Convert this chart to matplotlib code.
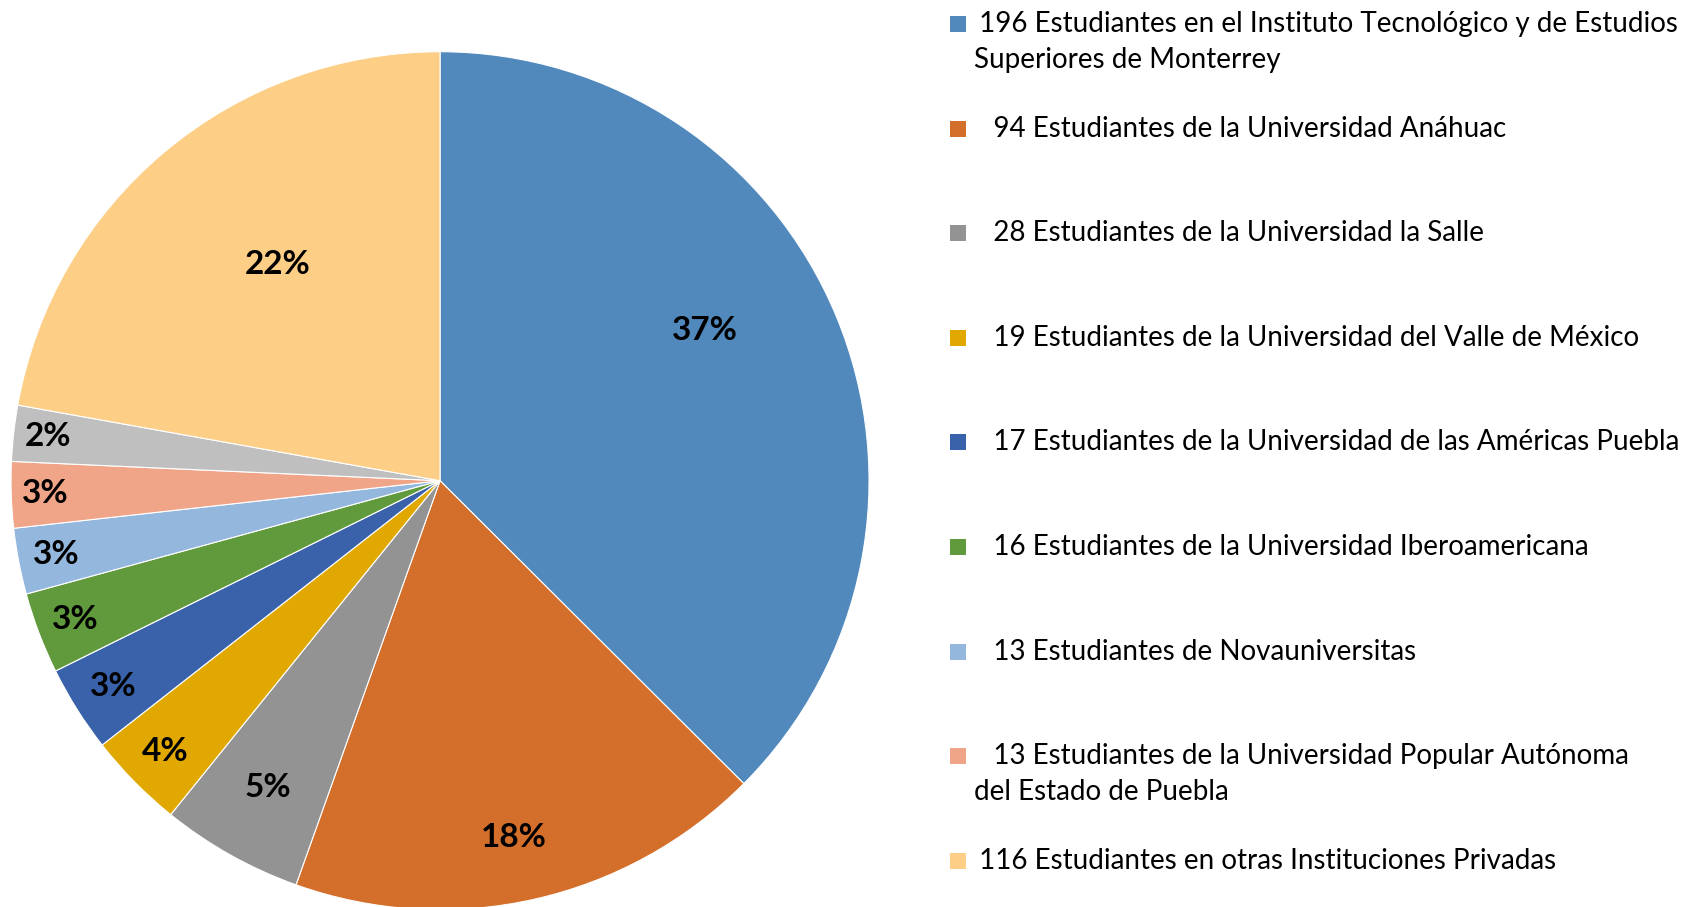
import numpy as np
import matplotlib.pyplot as plt
from matplotlib.patches import Rectangle

# datos del grafico (estudiantes por institucion)
valores = [196, 94, 28, 19, 17, 16, 13, 13, 11, 116]
porcentajes = ["37%", "18%", "5%", "4%", "3%", "3%", "3%", "3%", "2%", "22%"]
leyenda = [
    " 196 Estudiantes en el Instituto Tecnológico y de Estudios\nSuperiores de Monterrey",
    "   94 Estudiantes de la Universidad Anáhuac",
    "   28 Estudiantes de la Universidad la Salle",
    "   19 Estudiantes de la Universidad del Valle de México",
    "   17 Estudiantes de la Universidad de las Américas Puebla",
    "   16 Estudiantes de la Universidad Iberoamericana",
    "   13 Estudiantes de Novauniversitas",
    "   13 Estudiantes de la Universidad Popular Autónoma\ndel Estado de Puebla",
    None,
    " 116 Estudiantes en otras Instituciones Privadas",
]
colores = ["#5189BD", "#D36E2B", "#939393", "#E0A800", "#3A62AA",
           "#619A3C", "#94B7DE", "#F0A488", "#BFBFBF", "#FDCE86"]

# distancia de las etiquetas al centro (fraccion del radio) y giro en grados
dist_etq = [0.71, 0.85, 0.82, 0.90, 0.90, 0.91, 0.91, 0.92, 0.92, 0.63]
giro_etq = [7, -1, 0, 0, 0, 0, 0, 0, 0, -3]

plt.rcParams['font.family'] = ['Lato', 'DejaVu Sans']

fig = plt.figure(figsize=(16.99, 9.07), dpi=100)
ax = fig.add_axes([0.0065, -0.003, 0.505, 0.946])

wedges, _ = ax.pie(valores, colors=colores, startangle=90, counterclock=False,
                   radius=1, wedgeprops=dict(edgecolor='white', linewidth=0.8))
ax.set_xlim(-1, 1)
ax.set_ylim(-1, 1)
ax.set_aspect('equal')

for w, txt, r, g in zip(wedges, porcentajes, dist_etq, giro_etq):
    ang = np.deg2rad((w.theta1 + w.theta2) / 2 + g)
    ax.text(r * np.cos(ang), r * np.sin(ang), txt, ha='center', va='center',
            fontsize=24, fontweight='bold', color='black')

# leyenda a mano
W, H = 1699.0, 907.0
y0 = 24.0
paso = 104.6
i = 0
for etq, col in zip(leyenda, colores):
    if etq is None:
        continue
    yc = y0 + i * paso
    fig.patches.append(Rectangle((950 / W, 1 - (yc + 8) / H), 16 / W, 16 / H,
                                 transform=fig.transFigure, facecolor=col,
                                 edgecolor='none'))
    lineas = etq.split("\n")
    fig.text(972 / W, 1 - yc / H, lineas[0], ha='left', va='center', fontsize=20)
    if len(lineas) > 1:
        fig.text(974 / W, 1 - (yc + 36) / H, lineas[1], ha='left', va='center', fontsize=20)
    i += 1

fig.savefig("out.png", dpi=100, facecolor='white')
